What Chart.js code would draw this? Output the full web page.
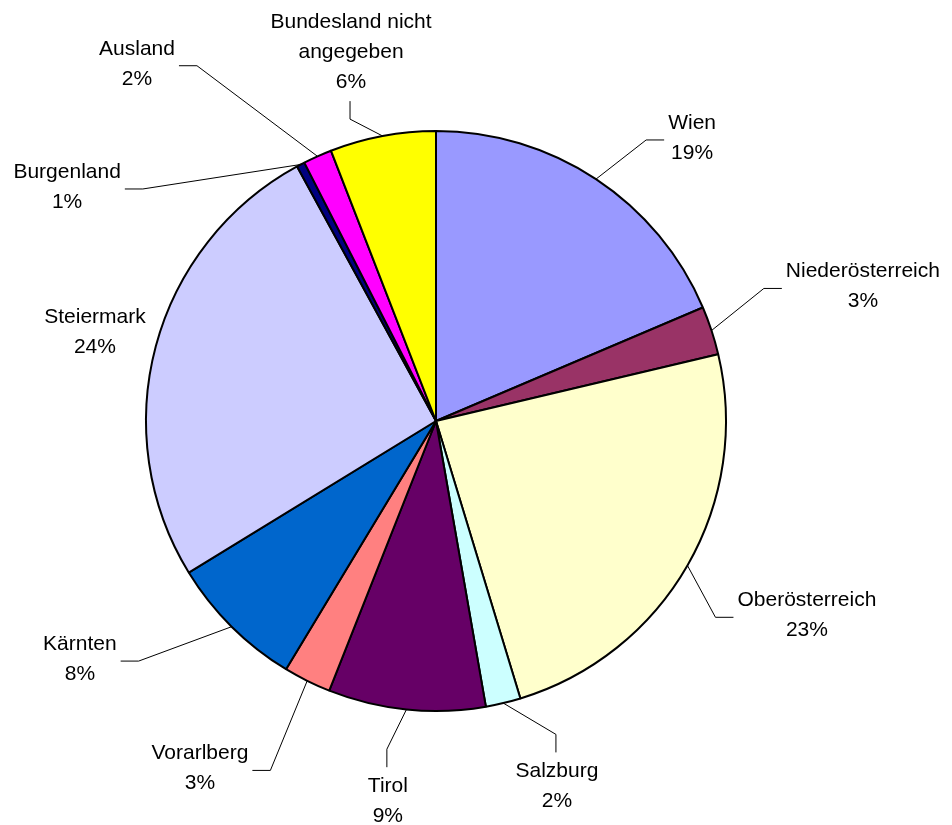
<!doctype html>
<html lang="de">
<head>
    <meta charset="UTF-8" />
    <title>Verteilung nach Bundesland</title>
    <style>
        body {
            margin: 0;
            background: #fff;
        }
        .chart-container {
            width: 952px;
            height: 825px;
        }
    </style>
</head>
<body>
    <div class="chart-container">
        <canvas id="pieChart" width="952" height="825"></canvas>
    </div>

    <script src="https://cdn.jsdelivr.net/npm/chart.js"></script>
    <script>
        // Slices, clockwise from 12 o'clock
        const categories = ['Wien', 'Niederösterreich', 'Oberösterreich', 'Salzburg', 'Tirol', 'Vorarlberg',
            'Kärnten', 'Steiermark', 'Burgenland', 'Ausland', ['Bundesland nicht', 'angegeben']];
        const shares = [18.6, 2.7, 24.0, 1.95, 8.75, 2.65, 7.6, 25.8, 0.45, 1.6, 5.9];
        const pctLabels = ['19%', '3%', '23%', '2%', '9%', '3%', '8%', '24%', '1%', '2%', '6%'];
        const sliceColors = ['#9999FF', '#993366', '#FFFFCC', '#CCFFFF', '#660066', '#FF8080',
            '#0066CC', '#CCCCFF', '#000080', '#FF00FF', '#FFFF00'];

        // where each label sits, relative to the pie centre in units of the radius,
        // and on which side of the label box the leader line arrives
        const labelPlacement = [
            { dx: 0.883, dy: -0.976, side: 'left' },
            { dx: 1.472, dy: -0.464, side: 'left' },
            { dx: 1.279, dy: 0.670, side: 'left' },
            { dx: 0.417, dy: 1.260, side: 'top' },
            { dx: -0.166, dy: 1.311, side: 'top' },
            { dx: -0.814, dy: 1.198, side: 'right' },
            { dx: -1.228, dy: 0.821, side: 'right' },
            { dx: -1.176, dy: -0.307, side: null },
            { dx: -1.272, dy: -0.807, side: 'right' },
            { dx: -1.031, dy: -1.232, side: 'right' },
            { dx: -0.293, dy: -1.272, side: 'bottom' }
        ];

        const lineH = 30;
        const gap = 4;
        const knee = 18;

        const leaderLabels = {
            id: 'leaderLabels',
            afterDraw(chart) {
                const ctx = chart.ctx;
                const arcs = chart.getDatasetMeta(0).data;
                ctx.save();
                ctx.font = '21px "Liberation Sans", Arial, sans-serif';
                ctx.fillStyle = '#000';
                ctx.strokeStyle = '#000';
                ctx.lineWidth = 1;
                ctx.textAlign = 'center';
                ctx.textBaseline = 'middle';

                arcs.forEach((arc, i) => {
                    const { x, y, startAngle, endAngle, outerRadius } =
                        arc.getProps(['x', 'y', 'startAngle', 'endAngle', 'outerRadius'], true);
                    const p = labelPlacement[i];
                    const lines = [].concat(chart.data.labels[i], pctLabels[i]);
                    const cx = x + p.dx * outerRadius;
                    const cy = y + p.dy * outerRadius;
                    const halfH = lines.length * lineH / 2;
                    const halfW = Math.max(...lines.map(t => ctx.measureText(t).width)) / 2;

                    if (p.side) {
                        const mid = (startAngle + endAngle) / 2;
                        const ax = x + Math.cos(mid) * outerRadius;
                        const ay = y + Math.sin(mid) * outerRadius;
                        let ex, ey, kx, ky;
                        if (p.side === 'left') {
                            ex = cx - halfW - gap; ey = cy + 2; kx = ex - knee; ky = ey;
                        } else if (p.side === 'right') {
                            ex = cx + halfW + gap; ey = cy + 2; kx = ex + knee; ky = ey;
                        } else if (p.side === 'top') {
                            ex = cx - 1; ey = cy - halfH - gap; kx = ex; ky = ey - knee;
                        } else {
                            ex = cx - 1; ey = cy + halfH + gap; kx = ex; ky = ey + knee;
                        }
                        ctx.beginPath();
                        ctx.moveTo(ax, ay);
                        ctx.lineTo(kx, ky);
                        ctx.lineTo(ex, ey);
                        ctx.stroke();
                    }

                    lines.forEach((t, j) => {
                        ctx.fillText(t, cx, cy - halfH + lineH * (j + 0.5));
                    });
                });
                ctx.restore();
            }
        };

        const ctx = document.getElementById('pieChart').getContext('2d');

        new Chart(ctx, {
            type: 'pie',
            data: {
                labels: categories,
                datasets: [{
                    data: shares,
                    backgroundColor: sliceColors,
                    borderColor: '#000',
                    borderWidth: 2
                }]
            },
            options: {
                responsive: false,
                animation: false,
                events: [],
                layout: {
                    padding: { left: 145, right: 225, top: 130, bottom: 113 }
                },
                plugins: {
                    legend: { display: false },
                    tooltip: { enabled: false }
                }
            },
            plugins: [leaderLabels]
        });
    </script>
</body>
</html>
